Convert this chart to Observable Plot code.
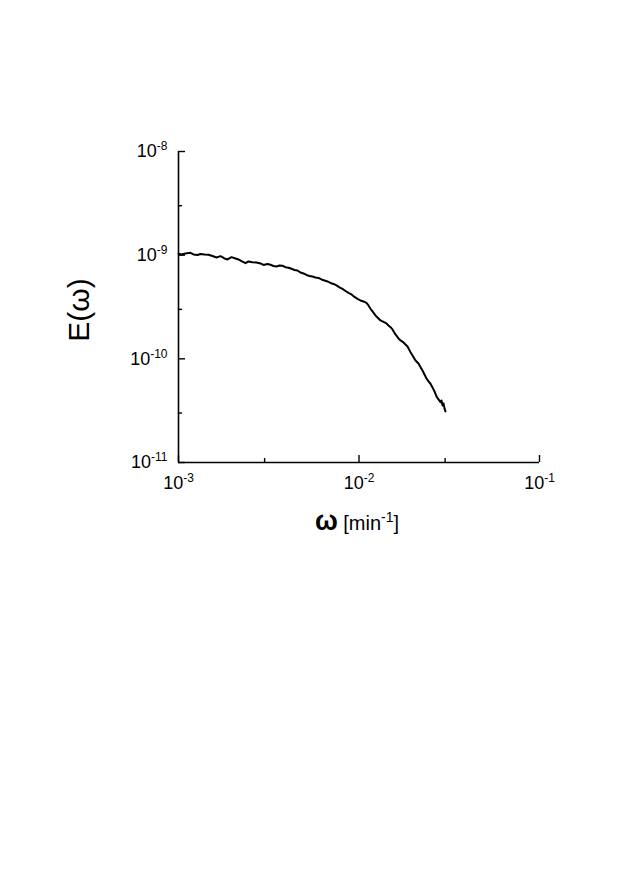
<!DOCTYPE html>
<html>
<head>
<meta charset="utf-8">
<script src="https://cdn.jsdelivr.net/npm/d3@7"></script>
<script src="https://cdn.jsdelivr.net/npm/@observablehq/plot@0.6"></script>
<style>
  html, body { margin: 0; padding: 0; background: #fff; }
  #chart svg { display: block; }
</style>
</head>
<body>
<div id="chart"></div>
<script>
// ---- data ----
const omega = [
  1.000e-3, 1.039e-3, 1.093e-3, 1.165e-3, 1.211e-3, 1.274e-3, 1.324e-3, 1.393e-3, 1.466e-3, 1.543e-3,
  1.624e-3, 1.709e-3, 1.798e-3, 1.868e-3, 1.966e-3, 2.069e-3, 2.150e-3, 2.234e-3, 2.351e-3, 2.442e-3,
  2.570e-3, 2.704e-3, 2.846e-3, 2.957e-3, 3.112e-3, 3.233e-3, 3.359e-3, 3.490e-3, 3.626e-3, 3.768e-3,
  3.915e-3, 4.067e-3, 4.226e-3, 4.391e-3, 4.562e-3, 4.740e-3, 4.925e-3, 5.117e-3, 5.317e-3, 5.525e-3,
  5.741e-3, 5.965e-3, 6.198e-3, 6.440e-3, 6.691e-3, 6.952e-3, 7.223e-3, 7.505e-3, 7.798e-3, 8.102e-3,
  8.418e-3, 8.746e-3, 9.088e-3, 9.442e-3, 9.811e-3, 1.019e-2, 1.059e-2, 1.100e-2, 1.129e-2, 1.158e-2,
  1.188e-2, 1.234e-2, 1.282e-2, 1.316e-2, 1.367e-2, 1.420e-2, 1.457e-2, 1.495e-2, 1.533e-2, 1.593e-2,
  1.655e-2, 1.698e-2, 1.764e-2, 1.810e-2, 1.857e-2, 1.929e-2, 1.979e-2, 2.056e-2, 2.136e-2, 2.191e-2,
  2.248e-2, 2.306e-2, 2.366e-2, 2.427e-2, 2.489e-2, 2.554e-2, 2.620e-2, 2.687e-2, 2.757e-2, 2.828e-2,
  2.864e-2, 2.901e-2, 2.938e-2, 2.976e-2, 3.014e-2
];
const energy = [
  1.032e-9, 1.016e-9, 1.039e-9, 1.055e-9, 1.016e-9, 1.004e-9, 1.027e-9, 1.016e-9, 1.009e-9, 9.824e-10,
  9.502e-10, 9.780e-10, 9.294e-10, 9.090e-10, 9.566e-10, 9.294e-10, 9.090e-10, 8.753e-10, 8.372e-10, 8.694e-10,
  8.560e-10, 8.503e-10, 8.316e-10, 8.044e-10, 8.225e-10, 8.080e-10, 7.867e-10, 7.780e-10, 7.955e-10, 7.902e-10,
  7.660e-10, 7.559e-10, 7.393e-10, 7.199e-10, 7.119e-10, 6.810e-10, 6.661e-10, 6.443e-10, 6.301e-10, 6.231e-10,
  6.094e-10, 6.027e-10, 5.830e-10, 5.702e-10, 5.577e-10, 5.394e-10, 5.276e-10, 5.103e-10, 4.882e-10, 4.722e-10,
  4.516e-10, 4.320e-10, 4.179e-10, 3.953e-10, 3.781e-10, 3.658e-10, 3.577e-10, 3.460e-10, 3.272e-10, 3.041e-10,
  2.865e-10, 2.622e-10, 2.453e-10, 2.346e-10, 2.269e-10, 2.195e-10, 2.099e-10, 2.021e-10, 1.921e-10, 1.718e-10,
  1.573e-10, 1.505e-10, 1.439e-10, 1.377e-10, 1.317e-10, 1.160e-10, 1.078e-10, 9.651e-11, 9.027e-11, 8.317e-11,
  7.727e-11, 7.072e-11, 6.471e-11, 6.054e-11, 5.752e-11, 5.299e-11, 4.848e-11, 4.339e-11, 4.059e-11, 3.824e-11,
  3.970e-11, 3.553e-11, 3.714e-11, 3.324e-11, 3.110e-11
];
const xMajorTicks = [1e-3, 1e-2, 1e-1];
const xMinorTicks = [3e-3, 3e-2];
const yMajorTicks = [1e-8, 1e-9, 1e-10, 1e-11];
const yMinorTicks = [3e-9, 3e-10, 3e-11];
const xTickLabels = ["10^{-3}", "10^{-2}", "10^{-1}"];
const yTickLabels = ["10^{-8}", "10^{-9}", "10^{-10}", "10^{-11}"];
const xAxisLabel = "ω [min^{-1}]";
const yAxisLabel = "E(ω)";

// ---- chart ----
const series = omega.map((w, i) => ({w, e: energy[i]}));

const W = 623, H = 895;
const mL = 178, mR = 84, mT = 151, mB = 433;
const frameW = W - mL - mR, frameH = H - mT - mB;

const chart = Plot.plot({
  width: W, height: H,
  marginLeft: mL, marginRight: mR, marginTop: mT, marginBottom: mB,
  style: {fontFamily: "'Liberation Sans', Arial, Helvetica, sans-serif", background: "#fff", color: "#000"},
  x: {type: "log", domain: [1e-3, 1e-1], axis: null},
  y: {type: "log", domain: [1e-11, 1e-8], axis: null},
  marks: [
    Plot.line(series, {x: "w", y: "e", stroke: "#000", strokeWidth: 2, strokeLinejoin: "round"}),
    Plot.ruleX([1e-3], {stroke: "#000", strokeWidth: 1.6}),
    Plot.ruleY([1e-11], {stroke: "#000", strokeWidth: 1.6}),
    Plot.tickX(xMajorTicks, {x: d => d, insetTop: frameH - 7, stroke: "#000", strokeWidth: 1.4}),
    Plot.tickX(xMinorTicks, {x: d => d, insetTop: frameH - 4, stroke: "#000", strokeWidth: 1.4}),
    Plot.tickY(yMajorTicks, {y: d => d, insetRight: frameW - 7, stroke: "#000", strokeWidth: 1.4}),
    Plot.tickY(yMinorTicks, {y: d => d, insetRight: frameW - 4, stroke: "#000", strokeWidth: 1.4}),
    Plot.text(xTickLabels, {x: (d, i) => xMajorTicks[i], frameAnchor: "bottom", dy: 26, lineAnchor: "bottom", textAnchor: "middle", fontSize: 18, fill: "#000"}),
    Plot.text(yTickLabels, {y: (d, i) => yMajorTicks[i], frameAnchor: "left", dx: -11, lineAnchor: "middle", textAnchor: "end", fontSize: 18, fill: "#000"}),
    Plot.text([xAxisLabel], {frameAnchor: "bottom", dx: -2, dy: 67, lineAnchor: "bottom", textAnchor: "middle", fontSize: 20, fill: "#000"}),
    Plot.text([yAxisLabel], {frameAnchor: "left", dx: -99, dy: 3, rotate: -90, lineAnchor: "middle", textAnchor: "middle", fontSize: 30, fill: "#000"})
  ]
});

// turn "base^{exp}rest" strings into tspans with a raised exponent
function richText(el) {
  const t = el.textContent;
  if (!t.includes("^{") ) return;
  const base = parseFloat(getComputedStyle(el).fontSize) || 18;
  const supSize = Math.round(base * 0.68);
  const raise = Math.round(base * 0.4);
  const parts = t.split(/(\^\{[^}]*\})/).filter(s => s.length);
  el.textContent = "";
  const NS = "http://www.w3.org/2000/svg";
  let raised = false;
  for (const p of parts) {
    if (p.startsWith("^{")) {
      const ts = document.createElementNS(NS, "tspan");
      ts.textContent = p.slice(2, -1);
      ts.setAttribute("font-size", supSize + "px");
      ts.setAttribute("dy", -raise);
      el.appendChild(ts);
      raised = true;
    } else {
      let rest = p;
      if (rest.startsWith("ω ")) {
        const om = document.createElementNS(NS, "tspan");
        om.textContent = "ω";
        om.setAttribute("font-size", Math.round(base * 1.35) + "px");
        om.setAttribute("font-weight", "bold");
        el.appendChild(om);
        rest = rest.slice(1);
      }
      const ts = document.createElementNS(NS, "tspan");
      ts.textContent = rest;
      if (raised) { ts.setAttribute("dy", raise); raised = false; }
      el.appendChild(ts);
    }
  }
}
document.getElementById("chart").appendChild(chart);
chart.querySelectorAll("text").forEach(richText);
</script>
</body>
</html>
